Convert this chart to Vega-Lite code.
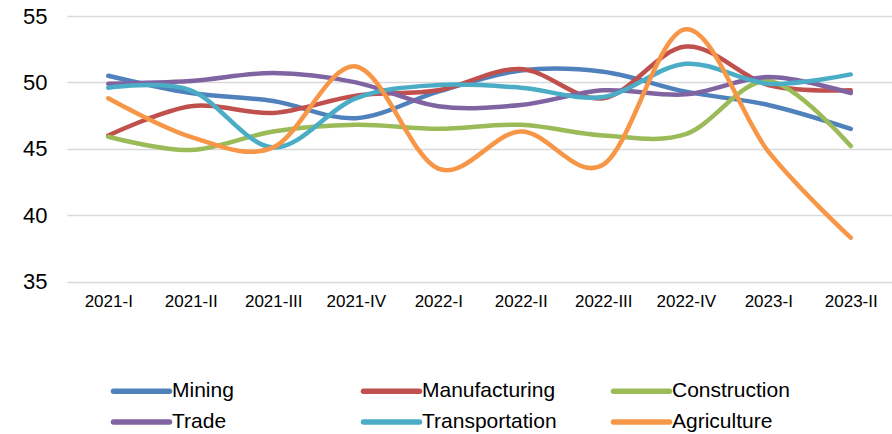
{
  "$schema": "https://vega.github.io/schema/vega-lite/v6.json",
  "width": 825,
  "height": 265.5,
  "autosize": "none",
  "padding": {"left": 67, "top": 16, "right": 0, "bottom": 152.5},
  "background": "white",
  "config": {
    "view": {"stroke": null},
    "font": "Liberation Sans, Arial, sans-serif"
  },
  "data": {
    "values": [
      {"q": "2021-I", "s": "Mining", "v": 50.5},
      {"q": "2021-II", "s": "Mining", "v": 49.2},
      {"q": "2021-III", "s": "Mining", "v": 48.6},
      {"q": "2021-IV", "s": "Mining", "v": 47.3},
      {"q": "2022-I", "s": "Mining", "v": 49.3},
      {"q": "2022-II", "s": "Mining", "v": 50.9},
      {"q": "2022-III", "s": "Mining", "v": 50.8},
      {"q": "2022-IV", "s": "Mining", "v": 49.3},
      {"q": "2023-I", "s": "Mining", "v": 48.3},
      {"q": "2023-II", "s": "Mining", "v": 46.5},
      {"q": "2021-I", "s": "Manufacturing", "v": 46.0},
      {"q": "2021-II", "s": "Manufacturing", "v": 48.2},
      {"q": "2021-III", "s": "Manufacturing", "v": 47.7},
      {"q": "2021-IV", "s": "Manufacturing", "v": 49.0},
      {"q": "2022-I", "s": "Manufacturing", "v": 49.4},
      {"q": "2022-II", "s": "Manufacturing", "v": 51.0},
      {"q": "2022-III", "s": "Manufacturing", "v": 48.8},
      {"q": "2022-IV", "s": "Manufacturing", "v": 52.7},
      {"q": "2023-I", "s": "Manufacturing", "v": 49.8},
      {"q": "2023-II", "s": "Manufacturing", "v": 49.4},
      {"q": "2021-I", "s": "Construction", "v": 45.9},
      {"q": "2021-II", "s": "Construction", "v": 44.9},
      {"q": "2021-III", "s": "Construction", "v": 46.3},
      {"q": "2021-IV", "s": "Construction", "v": 46.8},
      {"q": "2022-I", "s": "Construction", "v": 46.5},
      {"q": "2022-II", "s": "Construction", "v": 46.8},
      {"q": "2022-III", "s": "Construction", "v": 46.0},
      {"q": "2022-IV", "s": "Construction", "v": 46.1},
      {"q": "2023-I", "s": "Construction", "v": 50.1},
      {"q": "2023-II", "s": "Construction", "v": 45.2},
      {"q": "2021-I", "s": "Trade", "v": 49.9},
      {"q": "2021-II", "s": "Trade", "v": 50.1},
      {"q": "2021-III", "s": "Trade", "v": 50.7},
      {"q": "2021-IV", "s": "Trade", "v": 50.0},
      {"q": "2022-I", "s": "Trade", "v": 48.2},
      {"q": "2022-II", "s": "Trade", "v": 48.3},
      {"q": "2022-III", "s": "Trade", "v": 49.4},
      {"q": "2022-IV", "s": "Trade", "v": 49.1},
      {"q": "2023-I", "s": "Trade", "v": 50.4},
      {"q": "2023-II", "s": "Trade", "v": 49.2},
      {"q": "2021-I", "s": "Transportation", "v": 49.6},
      {"q": "2021-II", "s": "Transportation", "v": 49.4},
      {"q": "2021-III", "s": "Transportation", "v": 45.1},
      {"q": "2021-IV", "s": "Transportation", "v": 48.8},
      {"q": "2022-I", "s": "Transportation", "v": 49.8},
      {"q": "2022-II", "s": "Transportation", "v": 49.6},
      {"q": "2022-III", "s": "Transportation", "v": 48.9},
      {"q": "2022-IV", "s": "Transportation", "v": 51.4},
      {"q": "2023-I", "s": "Transportation", "v": 49.9},
      {"q": "2023-II", "s": "Transportation", "v": 50.6},
      {"q": "2021-I", "s": "Agriculture", "v": 48.8},
      {"q": "2021-II", "s": "Agriculture", "v": 45.9},
      {"q": "2021-III", "s": "Agriculture", "v": 45.1},
      {"q": "2021-IV", "s": "Agriculture", "v": 51.2},
      {"q": "2022-I", "s": "Agriculture", "v": 43.5},
      {"q": "2022-II", "s": "Agriculture", "v": 46.3},
      {"q": "2022-III", "s": "Agriculture", "v": 43.8},
      {"q": "2022-IV", "s": "Agriculture", "v": 54.0},
      {"q": "2023-I", "s": "Agriculture", "v": 44.8},
      {"q": "2023-II", "s": "Agriculture", "v": 38.3}
    ]
  },
  "mark": {"type": "line", "interpolate": "cardinal", "tension": 0, "strokeWidth": 4.5, "strokeCap": "round", "strokeJoin": "round"},
  "encoding": {
    "x": {
      "field": "q", "type": "ordinal", "sort": null, "title": null,
      "scale": {"type": "point", "padding": 0.5},
      "axis": {"domain": false, "ticks": false, "grid": false, "labelAngle": 0, "labelFontSize": 17, "labelColor": "#000", "labelPadding": 12}
    },
    "y": {
      "field": "v", "type": "quantitative", "title": null,
      "scale": {"domain": [35, 55], "nice": false, "zero": false},
      "axis": {"values": [35, 40, 45, 50, 55], "domain": false, "ticks": false, "tickSize": 0, "labelFontSize": 22, "labelColor": "#000", "labelPadding": 20, "gridColor": "#d9d9d9", "gridWidth": 1.5}
    },
    "color": {
      "field": "s", "type": "nominal", "title": null,
      "scale": {
        "domain": ["Mining", "Manufacturing", "Construction", "Trade", "Transportation", "Agriculture"],
        "range": ["#4F81BD", "#C0504D", "#9BBB59", "#8064A2", "#4BACC6", "#F79646"]
      },
      "legend": {
        "orient": "none", "legendX": 64, "legendY": 364.5,
        "direction": "horizontal", "columns": 3, "gridAlign": "all",
        "symbolType": "M-4,0H4", "symbolSize": 196, "symbolStrokeWidth": 5.5,
        "labelFontSize": 21, "labelColor": "#000", "labelOffset": 20,
        "columnPadding": 45, "rowPadding": 8, "labelLimit": 300,
        "encode": {"symbols": {"update": {"strokeCap": {"value": "round"}}}}
      }
    }
  }
}
